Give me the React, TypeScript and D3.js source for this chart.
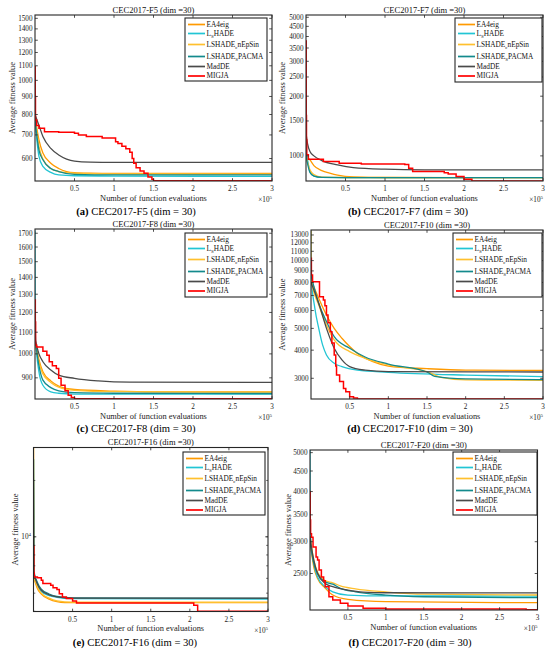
import React from "react";
import * as d3 from "d3";

type Pt = [number, number];

// series order as in the legend
const seriesNames = ["EA4eig", "L_SHADE", "LSHADE_cnEpSin", "LSHADE_SPACMA", "MadDE", "MIGJA"];
const seriesColors = ["#FF9A00", "#22C5D4", "#FFC02E", "#138A8C", "#4A4A4A", "#FF0000"];
// [main, subscript, rest]
const legendParts: [string, string, string][] = [
  ["EA4eig", "", ""],
  ["L", "S", "HADE"],
  ["LSHADE", "c", "nEpSin"],
  ["LSHADE", "S", "PACMA"],
  ["MadDE", "", ""],
  ["MIGJA", "", ""],
];

// x in units of 10^5 function evaluations
const xTicks = [0.5, 1, 1.5, 2, 2.5, 3];

// ---- F5
const f5Ticks = [600, 700, 800, 900, 1000, 1100, 1200, 1300, 1400, 1500];
const f5EA4eig: Pt[] = [[0, 790], [0.05, 678], [0.1, 622], [0.2, 582], [0.3, 562], [0.4, 551], [0.5, 547], [0.7, 545], [1, 544], [3, 544]];
const f5LSHADE: Pt[] = [[0, 770], [0.05, 608], [0.1, 570], [0.2, 548], [0.3, 539], [0.5, 536], [1, 535], [3, 534]];
const f5CnEpSin: Pt[] = [[0, 780], [0.05, 650], [0.1, 598], [0.2, 562], [0.3, 551], [0.5, 545], [1, 543], [3, 542]];
const f5SPACMA: Pt[] = [[0, 775], [0.05, 634], [0.1, 595], [0.2, 562], [0.3, 551], [0.5, 541], [1, 539], [3, 539]];
const f5MadDE: Pt[] = [[0, 800], [0.05, 745], [0.1, 693], [0.2, 641], [0.3, 614], [0.4, 598], [0.5, 590], [0.7, 586], [1, 585], [3, 585]];
const f5MIGJA: Pt[] = [[0, 1093], [0.003, 900], [0.006, 772], [0.02, 745], [0.05, 731], [0.12, 715], [0.3, 712], [0.5, 708], [0.55, 700], [0.65, 693], [0.85, 686], [1.02, 670], [1.05, 662], [1.1, 650], [1.15, 640], [1.2, 625], [1.23, 600], [1.25, 582], [1.28, 565], [1.33, 553], [1.38, 545], [1.43, 532], [1.48, 524], [1.5, 519], [3, 519]];

// ---- F7
const f7Ticks = [1000, 1500, 2000, 2500, 3000, 3500, 4000, 4500, 5000];
const f7EA4eig: Pt[] = [[0, 1000], [0.05, 954], [0.1, 893], [0.2, 843], [0.3, 818], [0.4, 799], [0.6, 783], [1, 778], [3, 777]];
const f7LSHADE: Pt[] = [[0, 1050], [0.02, 954], [0.05, 833], [0.1, 793], [0.2, 779], [0.5, 777], [3, 777]];
const f7CnEpSin: Pt[] = [[0, 1000], [0.05, 850], [0.1, 805], [0.2, 782], [0.5, 778], [3, 777]];
const f7SPACMA: Pt[] = [[0, 1000], [0.05, 825], [0.1, 790], [0.2, 779], [0.5, 777], [3, 776]];
const f7MadDE: Pt[] = [[0, 1300], [0.02, 1150], [0.05, 1051], [0.1, 1000], [0.2, 947], [0.4, 901], [0.6, 873], [1, 857], [1.5, 851], [3, 850]];
const f7MIGJA: Pt[] = [[0, 3800], [0.003, 1600], [0.006, 1205], [0.01, 1012], [0.03, 962], [0.22, 936], [0.42, 918], [0.7, 911], [1.25, 905], [1.3, 867], [1.35, 833], [1.75, 823], [1.8, 811], [1.9, 786], [2.0, 763], [2.1, 748], [3, 748]];

// ---- F8
const f8Ticks = [900, 1000, 1100, 1200, 1300, 1400, 1500, 1600, 1700];
const f8EA4eig: Pt[] = [[0, 1060], [0.05, 975], [0.1, 924], [0.2, 888], [0.3, 868], [0.5, 855], [1, 849], [1.5, 846], [3, 846]];
const f8LSHADE: Pt[] = [[0, 1720], [0.003, 1100], [0.05, 924], [0.1, 871], [0.2, 846], [0.3, 841], [0.5, 838], [3, 838]];
const f8CnEpSin: Pt[] = [[0, 1050], [0.05, 965], [0.1, 915], [0.2, 882], [0.3, 864], [0.5, 852], [1, 847], [3, 845]];
const f8SPACMA: Pt[] = [[0, 1070], [0.05, 950], [0.1, 891], [0.2, 862], [0.3, 850], [0.5, 843], [1, 841], [3, 840]];
const f8MadDE: Pt[] = [[0, 1070], [0.05, 1000], [0.1, 966], [0.2, 932], [0.3, 911], [0.5, 898], [0.8, 888], [1.2, 883], [3, 882]];
const f8MIGJA: Pt[] = [[0, 1267], [0.004, 1150], [0.008, 1040], [0.02, 1031], [0.1, 1012], [0.15, 994], [0.18, 966], [0.22, 949], [0.27, 938], [0.3, 898], [0.33, 871], [0.38, 850], [0.42, 834], [0.46, 825], [0.5, 821], [3, 821]];

// ---- F10
const f10Ticks = [3000, 4000, 5000, 6000, 7000, 8000, 9000, 10000, 11000, 12000, 13000];
const f10EA4eig: Pt[] = [[0, 8200], [0.1, 6800], [0.2, 5730], [0.3, 5000], [0.4, 4520], [0.5, 4150], [0.6, 3870], [0.8, 3560], [1, 3400], [1.5, 3310], [2, 3260], [3, 3250]];
const f10LSHADE: Pt[] = [[0, 13600], [0.003, 8500], [0.05, 6140], [0.1, 5000], [0.15, 4220], [0.2, 3810], [0.3, 3500], [0.4, 3380], [0.6, 3260], [1, 3190], [2, 3100], [3, 3050]];
const f10CnEpSin: Pt[] = [[0, 13600], [0.003, 8200], [0.1, 6350], [0.2, 5180], [0.3, 4440], [0.5, 3940], [0.7, 3680], [1, 3440], [1.5, 3210], [1.7, 3020], [2, 2950], [3, 2940]];
const f10SPACMA: Pt[] = [[0, 8600], [0.1, 6460], [0.2, 5360], [0.3, 4590], [0.5, 4080], [0.7, 3730], [1, 3470], [1.5, 3200], [1.6, 3060], [2, 2980], [3, 2960]];
const f10MadDE: Pt[] = [[0, 8000], [0.1, 6460], [0.2, 5000], [0.3, 4080], [0.4, 3620], [0.5, 3380], [0.7, 3260], [1, 3210], [3, 3200]];
const f10MIGJA: Pt[] = [[0, 10240], [0.005, 8640], [0.02, 8060], [0.11, 6910], [0.16, 6690], [0.18, 6300], [0.2, 5730], [0.22, 5300], [0.25, 4830], [0.27, 4300], [0.3, 3810], [0.32, 3400], [0.33, 3100], [0.37, 2900], [0.42, 2700], [0.45, 2616], [0.5, 2486], [0.55, 2450], [0.6, 2430], [3, 2430]];

// ---- F16
const f16Ticks = [10000];
const f16EA4eig: Pt[] = [[0, 30000], [0.004, 6200], [0.05, 5300], [0.1, 4950], [0.2, 4650], [0.3, 4500], [0.4, 4450], [3, 4450]];
const f16LSHADE: Pt[] = [[0, 26000], [0.004, 6400], [0.05, 5500], [0.1, 5100], [0.2, 4850], [0.3, 4750], [0.5, 4680], [3, 4650]];
const f16CnEpSin: Pt[] = [[0, 30000], [0.004, 6300], [0.05, 5400], [0.1, 5000], [0.2, 4700], [0.3, 4550], [0.5, 4480], [3, 4470]];
const f16SPACMA: Pt[] = [[0, 26000], [0.004, 6600], [0.05, 5700], [0.1, 5250], [0.2, 4950], [0.3, 4800], [0.5, 4720], [3, 4690]];
const f16MadDE: Pt[] = [[0, 20000], [0.004, 6500], [0.05, 5600], [0.1, 5180], [0.2, 4900], [0.3, 4780], [0.5, 4700], [3, 4700]];
const f16MIGJA: Pt[] = [[0, 8900], [0.004, 6400], [0.01, 6100], [0.05, 6050], [0.1, 5860], [0.12, 5630], [0.22, 5510], [0.25, 5350], [0.3, 5230], [0.33, 4970], [0.37, 4770], [0.42, 4680], [0.5, 4540], [0.55, 4430], [2.05, 4310], [2.1, 4000], [3, 4000]];

// ---- F20
const f20Ticks = [2500, 3000, 3500, 4000, 4500, 5000];
const f20EA4eig: Pt[] = [[0, 3000], [0.05, 2595], [0.1, 2429], [0.2, 2300], [0.3, 2210], [0.5, 2155], [1, 2127], [3, 2115]];
const f20LSHADE: Pt[] = [[0, 5076], [0.003, 3200], [0.05, 2648], [0.1, 2452], [0.2, 2318], [0.3, 2251], [0.5, 2209], [1, 2198], [3, 2197]];
const f20CnEpSin: Pt[] = [[0, 3100], [0.05, 2700], [0.1, 2520], [0.2, 2400], [0.3, 2370], [0.4, 2330], [0.6, 2290], [1, 2250], [1.5, 2220], [3, 2210]];
const f20SPACMA: Pt[] = [[0, 3000], [0.05, 2650], [0.1, 2500], [0.2, 2383], [0.3, 2352], [0.4, 2296], [0.6, 2251], [1, 2209], [1.5, 2188], [3, 2176]];
const f20MadDE: Pt[] = [[0, 3100], [0.02, 2900], [0.05, 2698], [0.1, 2500], [0.2, 2361], [0.3, 2318], [0.5, 2274], [0.7, 2248], [1, 2239], [3, 2238]];
const f20MIGJA: Pt[] = [[0, 4000], [0.003, 3400], [0.008, 3140], [0.02, 3080], [0.04, 2910], [0.08, 2750], [0.1, 2700], [0.12, 2550], [0.15, 2452], [0.18, 2400], [0.2, 2318], [0.25, 2188], [0.3, 2147], [0.4, 2107], [0.5, 2076], [0.7, 2048], [1, 2040], [2.85, 2030], [3, 2030]];

const FONT = "'Liberation Serif', 'Times New Roman', serif";

type PanelSpec = {
  tag: string;
  fn: string;
  series: Pt[][];
  yDomain: [number, number];
  yTicks: number[];
  box: { l: number; r: number; t: number; b: number };
  legend: { x: number; y: number; w: number; h: number };
  ylabX: number;
  capX: number;
  capY: number;
  pow10?: boolean;
};

const panels: PanelSpec[] = [
  { tag: "a", fn: "F5", series: [f5EA4eig, f5LSHADE, f5CnEpSin, f5SPACMA, f5MadDE, f5MIGJA], yDomain: [518, 1533], yTicks: f5Ticks,
    box: { l: 35, r: 272, t: 15, b: 181 }, legend: { x: 185, y: 18, w: 82, h: 63 }, ylabX: 12, capX: 136, capY: 215 },
  { tag: "b", fn: "F7", series: [f7EA4eig, f7LSHADE, f7CnEpSin, f7SPACMA, f7MadDE, f7MIGJA], yDomain: [747, 5135], yTicks: f7Ticks,
    box: { l: 306, r: 543, t: 15, b: 181 }, legend: { x: 455, y: 18, w: 87, h: 64 }, ylabX: 282.5, capX: 408, capY: 215 },
  { tag: "c", fn: "F8", series: [f8EA4eig, f8LSHADE, f8CnEpSin, f8SPACMA, f8MadDE, f8MIGJA], yDomain: [820, 1732], yTicks: f8Ticks,
    box: { l: 35, r: 272, t: 229, b: 399 }, legend: { x: 185, y: 233, w: 82, h: 64 }, ylabX: 12, capX: 136, capY: 432 },
  { tag: "d", fn: "F10", series: [f10EA4eig, f10LSHADE, f10CnEpSin, f10SPACMA, f10MadDE, f10MIGJA], yDomain: [2427, 13680], yTicks: f10Ticks,
    box: { l: 311, r: 543, t: 230, b: 399 }, legend: { x: 453, y: 233, w: 89, h: 64 }, ylabX: 282, capX: 410, capY: 432 },
  { tag: "e", fn: "F16", series: [f16EA4eig, f16LSHADE, f16CnEpSin, f16SPACMA, f16MadDE, f16MIGJA], yDomain: [3990, 30000], yTicks: f16Ticks,
    box: { l: 33.5, r: 268, t: 447.5, b: 611.5 }, legend: { x: 183, y: 452, w: 82, h: 63 }, ylabX: 15, capX: 135, capY: 646, pow10: true },
  { tag: "f", fn: "F20", series: [f20EA4eig, f20LSHADE, f20CnEpSin, f20SPACMA, f20MadDE, f20MIGJA], yDomain: [2028, 5076], yTicks: f20Ticks,
    box: { l: 310, r: 537.5, t: 450, b: 610 }, legend: { x: 453, y: 452, w: 84, h: 63 }, ylabX: 288, capX: 410, capY: 646 },
];

const legendRows = [6.5, 15.5, 26.5, 38.5, 48.5, 58];

function Panel({ p }: { p: PanelSpec }) {
  const { box } = p;
  const x = d3.scaleLinear().domain([0, 3]).range([box.l, box.r]);
  const y = d3.scaleLog().domain(p.yDomain).range([box.b, box.t]);
  const clipId = `clip-${p.tag}`;
  const smooth = d3.line<Pt>().x((d) => x(d[0])).y((d) => y(d[1])).curve(d3.curveMonotoneX);
  const steps = d3.line<Pt>().x((d) => x(d[0])).y((d) => y(d[1])).curve(d3.curveStepAfter);
  const minor = p.pow10 ? y.ticks() : [];
  const axisCol = "#262626";
  const cy = (box.t + box.b) / 2;
  const cx = (box.l + box.r) / 2;
  const lg = p.legend;

  return (
    <g>
      <defs>
        <clipPath id={clipId}>
          <rect x={box.l} y={box.t} width={box.r - box.l} height={box.b - box.t} />
        </clipPath>
      </defs>
      <text x={cx} y={box.t - 2.5} textAnchor="middle" fontSize={8.5} fontFamily={FONT} fill="#111">
        {`CEC2017-${p.fn} (dim =30)`}
      </text>
      <g clipPath={`url(#${clipId})`}>
        {p.series.map((s, i) => (
          <path key={i} d={(i === 5 ? steps(s) : smooth(s)) || ""} fill="none"
            stroke={seriesColors[i]} strokeWidth={i === 5 ? 1.5 : 1.3} />
        ))}
      </g>
      <rect x={box.l} y={box.t} width={box.r - box.l} height={box.b - box.t} fill="none" stroke={axisCol} strokeWidth={1.1} />
      {xTicks.map((t) => (
        <g key={t}>
          <line x1={x(t)} x2={x(t)} y1={box.b} y2={box.b - 2.8} stroke={axisCol} strokeWidth={0.8} />
          <line x1={x(t)} x2={x(t)} y1={box.t} y2={box.t + 2.8} stroke={axisCol} strokeWidth={0.8} />
          <text x={x(t)} y={box.b + 10} textAnchor="middle" fontSize={7.2} fontFamily={FONT} fill="#222">{t}</text>
        </g>
      ))}
      {minor.map((t) => (
        <g key={`m${t}`}>
          <line x1={box.l} x2={box.l + 1.8} y1={y(t)} y2={y(t)} stroke={axisCol} strokeWidth={0.7} />
          <line x1={box.r} x2={box.r - 1.8} y1={y(t)} y2={y(t)} stroke={axisCol} strokeWidth={0.7} />
        </g>
      ))}
      {p.yTicks.map((t) => (
        <g key={t}>
          <line x1={box.l} x2={box.l + 2.8} y1={y(t)} y2={y(t)} stroke={axisCol} strokeWidth={0.8} />
          <line x1={box.r} x2={box.r - 2.8} y1={y(t)} y2={y(t)} stroke={axisCol} strokeWidth={0.8} />
          {p.pow10 ? (
            <text x={box.l - 2.5} y={y(t) + 2.5} textAnchor="end" fontSize={7.2} fontFamily={FONT} fill="#222">
              10<tspan fontSize={5} dy={-3}>{Math.round(Math.log10(t))}</tspan>
            </text>
          ) : (
            <text x={box.l - 2.5} y={y(t) + 2.5} textAnchor="end" fontSize={7.2} fontFamily={FONT} fill="#222">{t}</text>
          )}
        </g>
      ))}
      <text transform={`translate(${p.ylabX},${cy}) rotate(-90)`} textAnchor="middle" dominantBaseline="central"
        fontSize={8.4} fontFamily={FONT} fill="#222">Average fitness value</text>
      <text x={cx} y={box.b + 19.8} textAnchor="middle" fontSize={8.4} fontFamily={FONT} fill="#222">Number of function evaluations</text>
      <text x={box.r} y={box.b + 21} textAnchor="end" fontSize={7.2} fontFamily={FONT} fill="#222">
        ×10<tspan fontSize={5} dy={-3}>5</tspan>
      </text>
      {/* legend */}
      <rect x={lg.x} y={lg.y} width={lg.w} height={lg.h} fill="#fff" stroke={axisCol} strokeWidth={1.1} />
      {legendParts.map((lp, i) => {
        const ry = lg.y + legendRows[i];
        return (
          <g key={i}>
            <line x1={lg.x + 3} x2={lg.x + 20} y1={ry} y2={ry} stroke={seriesColors[i]} strokeWidth={1.7} />
            <text x={lg.x + 21.5} y={ry + 2.4} fontSize={7.3} fontFamily={FONT} fill="#111">
              {lp[0]}
              {lp[1] && <tspan fontSize={5} dy={2.5}>{lp[1]}</tspan>}
              {lp[2] && <tspan dy={-2.5}>{lp[2]}</tspan>}
            </text>
          </g>
        );
      })}
      {/* caption */}
      <text x={p.capX} y={p.capY} textAnchor="middle" fontSize={10.6} fontFamily={FONT} fill="#000">
        <tspan fontWeight="bold">{`(${p.tag})`}</tspan>
        <tspan fontWeight="normal">{` CEC2017-${p.fn} (dim = 30)`}</tspan>
      </text>
    </g>
  );
}

export default function App() {
  return (
    <svg width={550} height={654} viewBox="0 0 550 654"
      style={{ position: "absolute", left: 0, top: 0, background: "#fff" }}>
      <rect x={0} y={0} width={550} height={654} fill="#fff" />
      {panels.map((p) => (
        <Panel key={p.tag} p={p} />
      ))}
    </svg>
  );
}
